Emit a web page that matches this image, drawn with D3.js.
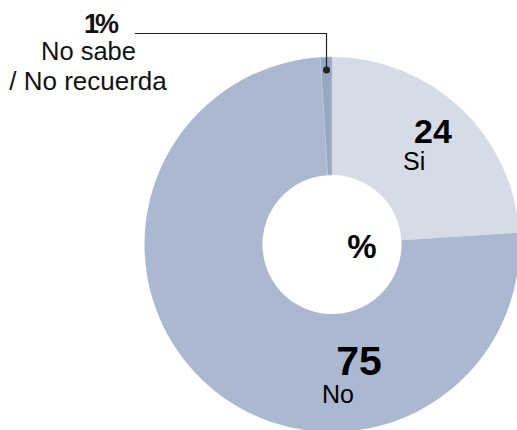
<!DOCTYPE html>
<html><head><meta charset="utf-8">
<script src="https://cdn.jsdelivr.net/npm/d3@7"></script>
<style>html,body{margin:0;padding:0;background:#fff;}svg{display:block;}</style>
</head><body>
<svg id="chart" width="517" height="430"></svg>
<script>
const categories = ["Si", "No", "No sabe / No recuerda"];
const values = [24, 75, 1];
const colors = ["#d5dce7", "#aab9cf", "#97a8c2"];

const W = 517, H = 430;
const cx = 332, cy = 244.5, rOuter = 187.5, rInner = 69.5;
const font = "Liberation Sans, Arial, Helvetica, sans-serif";

const svg = d3.select("#chart");
const g = svg.append("g").attr("transform", `translate(${cx},${cy})`);

const pie = d3.pie().sort(null).value(d => d.v);
const data = categories.map((c, i) => ({c, v: values[i], col: colors[i]}));
const arcs = pie(data);
const arc = d3.arc().innerRadius(rInner).outerRadius(rOuter);

g.selectAll("path").data(arcs).join("path")
  .attr("d", arc)
  .attr("fill", d => d.data.col)
  .attr("stroke", (d, i) => i === 2 ? "#c3cedd" : "none")
  .attr("stroke-width", 0.6);

// center %
g.append("text").attr("x", 30).attr("y", 13.5)
  .attr("text-anchor", "middle").attr("font-family", font)
  .attr("font-weight", "bold").attr("font-size", 33).text("%");

// Si label
g.append("text").attr("x", 101).attr("y", -101.5)
  .attr("text-anchor", "middle").attr("font-family", font)
  .attr("font-weight", "bold").attr("font-size", 34).text(values[0]);
g.append("text").attr("x", 71).attr("y", -74.5)
  .attr("font-family", font).attr("font-size", 25).text("Si");

// No label
const yNo = 130;
g.append("text").attr("x", 27).attr("y", yNo)
  .attr("text-anchor", "middle").attr("font-family", font)
  .attr("font-weight", "bold").attr("font-size", 41).text(values[1]);
g.append("text").attr("x", -10).attr("y", yNo + 28)
  .attr("font-family", font).attr("font-size", 25).text("No");

// No sabe leader
const a3 = (arcs[2].startAngle + arcs[2].endAngle) / 2;
const rDot = rOuter - 13;
const dx = cx + Math.sin(a3) * rDot, dy = cy - Math.cos(a3) * rDot;
svg.append("path")
  .attr("d", `M135,33.5H${dx}V${dy}`)
  .attr("fill", "none").attr("stroke", "#222").attr("stroke-width", 1.2);
svg.append("circle").attr("cx", dx).attr("cy", dy).attr("r", 3.5).attr("fill", "#222");

const lbl = svg.append("g").attr("font-family", font).attr("fill", "#111");
lbl.append("text").attr("x", 84).attr("y", 33).attr("font-weight", "bold")
  .attr("font-size", 27).attr("letter-spacing", -4).text(values[2] + "%");
lbl.append("text").attr("x", 88.5).attr("y", 60).attr("text-anchor", "middle")
  .attr("font-size", 25.5).text("No sabe");
lbl.append("text").attr("x", 88).attr("y", 90).attr("text-anchor", "middle")
  .attr("font-size", 26).text("/ No recuerda");
</script>
</body></html>
